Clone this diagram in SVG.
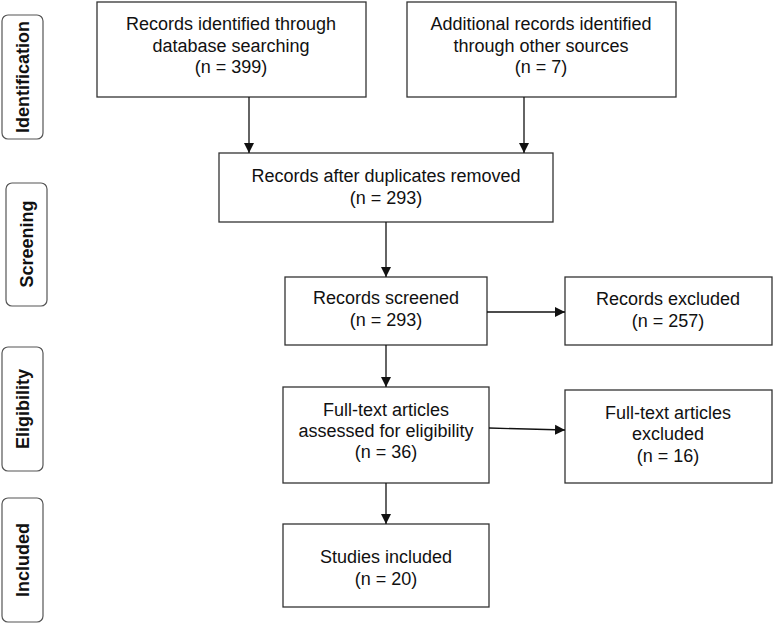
<svg xmlns="http://www.w3.org/2000/svg" width="774" height="623" viewBox="0 0 774 623">
<style>
.box{fill:#fff;stroke:#333;stroke-width:1.3}
.lab{fill:#fff;stroke:#555;stroke-width:1.2}
.t{font-family:"Liberation Sans",Arial,sans-serif;font-size:18px;fill:#111;text-anchor:middle}
.s{font-family:"Liberation Sans",Arial,sans-serif;font-size:18px;font-weight:bold;fill:#111;text-anchor:middle;dominant-baseline:central}
.c{stroke:#111;stroke-width:1.3;fill:none;marker-end:url(#ah)}
</style>
<defs>
<marker id="ah" markerUnits="userSpaceOnUse" markerWidth="10" markerHeight="12" viewBox="0 0 10 12" refX="10" refY="6" orient="auto">
<path d="M0,1 L10,6 L0,11 Z" fill="#111"/>
</marker>
</defs>
<rect width="774" height="623" fill="#fff"/>
<g id="stage-identification"><rect class="lab" x="2" y="15" width="41" height="124" rx="6"/><text class="s" transform="translate(23,77) rotate(-90)">Identification</text></g>
<g id="stage-screening"><rect class="lab" x="6" y="183" width="41" height="123" rx="6"/><text class="s" transform="translate(27,244) rotate(-90)">Screening</text></g>
<g id="stage-eligibility"><rect class="lab" x="2" y="347" width="41" height="124" rx="6"/><text class="s" transform="translate(23,409) rotate(-90)">Eligibility</text></g>
<g id="stage-included"><rect class="lab" x="2" y="498" width="41" height="124" rx="6"/><text class="s" transform="translate(23,560) rotate(-90)">Included</text></g>
<g id="n-db"><rect class="box" x="97" y="2" width="269" height="95"/><text class="t" x="231" y="30">Records identified through</text><text class="t" x="231" y="52">database searching</text><text class="t" x="231" y="73">(n = 399)</text></g>
<g id="n-other"><rect class="box" x="407" y="2" width="269" height="95"/><text class="t" x="541" y="30">Additional records identified</text><text class="t" x="541" y="52">through other sources</text><text class="t" x="541" y="73">(n = 7)</text></g>
<g id="n-dup"><rect class="box" x="219" y="153" width="334" height="69"/><text class="t" x="386" y="182">Records after duplicates removed</text><text class="t" x="386" y="204">(n = 293)</text></g>
<g id="n-screened"><rect class="box" x="285" y="277" width="202" height="68"/><text class="t" x="386" y="304">Records screened</text><text class="t" x="386" y="326">(n = 293)</text></g>
<g id="n-excl"><rect class="box" x="565" y="277" width="207" height="68"/><text class="t" x="668" y="305">Records excluded</text><text class="t" x="668" y="327">(n = 257)</text></g>
<g id="n-full"><rect class="box" x="283" y="387" width="206" height="96"/><text class="t" x="386" y="416">Full-text articles</text><text class="t" x="386" y="437">assessed for eligibility</text><text class="t" x="386" y="458">(n = 36)</text></g>
<g id="n-fullexcl"><rect class="box" x="565" y="390" width="207" height="93"/><text class="t" x="668" y="419">Full-text articles</text><text class="t" x="668" y="440">excluded</text><text class="t" x="668" y="462">(n = 16)</text></g>
<g id="n-incl"><rect class="box" x="283" y="524" width="206" height="83"/><text class="t" x="386" y="563">Studies included</text><text class="t" x="386" y="585">(n = 20)</text></g>
<g id="connectors">
<path class="c" d="M249,97 V153"/>
<path class="c" d="M524,97 V153"/>
<path class="c" d="M386,222 V277"/>
<path class="c" d="M487,312 H565"/>
<path class="c" d="M386,345 V387"/>
<path class="c" d="M489,428 L565,430"/>
<path class="c" d="M386,483 V524"/>
</g>
</svg>
